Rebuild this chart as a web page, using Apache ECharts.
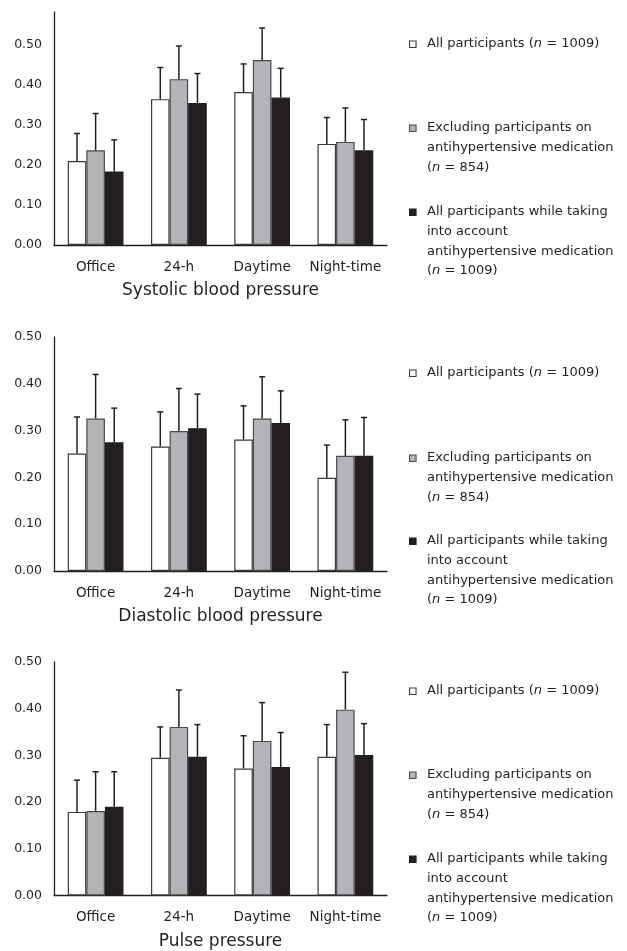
<!DOCTYPE html>
<html>
<head>
<meta charset="utf-8">
<style>html,body{margin:0;padding:0;background:#fff}#c{width:627px;height:951px}</style>
<script src="https://cdn.jsdelivr.net/npm/echarts@6/dist/echarts.min.js"></script>
</head>
<body>
<div id="c"></div>
<script>
// ---- data ----
const categories = ['Office', '24-h', 'Daytime', 'Night-time'];
const yTicks = [0, 0.1, 0.2, 0.3, 0.4, 0.5];
const panelTitles = ['Systolic blood pressure', 'Diastolic blood pressure', 'Pulse pressure'];
const seriesNames = ['All participants', 'Excluding participants on antihypertensive medication', 'All participants while taking into account antihypertensive medication'];
const legendLabels = [
  'All participants ({i|n} = 1009)',
  'Excluding participants on\nantihypertensive medication\n({i|n} = 854)',
  'All participants while taking\ninto account\nantihypertensive medication\n({i|n} = 1009)'
];

// Systolic
const sbpAll = [0.210, 0.365, 0.383, 0.253];
const sbpAllUpper = [0.279, 0.444, 0.453, 0.319];
const sbpExcl = [0.237, 0.415, 0.463, 0.258];
const sbpExclUpper = [0.329, 0.498, 0.543, 0.343];
const sbpAdj = [0.184, 0.355, 0.369, 0.237];
const sbpAdjUpper = [0.263, 0.429, 0.442, 0.314];

// Diastolic
const dbpAll = [0.251, 0.266, 0.281, 0.199];
const dbpAllUpper = [0.329, 0.340, 0.353, 0.269];
const dbpExcl = [0.326, 0.299, 0.326, 0.246];
const dbpExclUpper = [0.420, 0.390, 0.415, 0.323];
const dbpAdj = [0.275, 0.305, 0.316, 0.246];
const dbpAdjUpper = [0.348, 0.378, 0.385, 0.328];

// Pulse pressure
const ppAll = [0.179, 0.295, 0.272, 0.297];
const ppAllUpper = [0.247, 0.361, 0.342, 0.366];
const ppExcl = [0.181, 0.361, 0.331, 0.398];
const ppExclUpper = [0.265, 0.440, 0.413, 0.478];
const ppAdj = [0.190, 0.297, 0.275, 0.301];
const ppAdjUpper = [0.265, 0.366, 0.349, 0.368];

const panelMax = [0.583, 0.5, 0.5];

// ---- layout / style ----
const FONT = 'DejaVu Sans';
const INK = '#231f20';
const fills = ['#ffffff', '#b3b4b8', '#231f20'];
const borders = ['#3c3a3b', '#4a494b', '#231f20'];
const gridTops = [12, 337, 662];
const gridH = [233, 234, 234];
const legendFirstLineY = [[44, 128, 212], [373, 458, 541], [691, 775, 859]];
const CAT_GAP = 0.33;

const panels = [
  [[sbpAll, sbpAllUpper], [sbpExcl, sbpExclUpper], [sbpAdj, sbpAdjUpper]],
  [[dbpAll, dbpAllUpper], [dbpExcl, dbpExclUpper], [dbpAdj, dbpAdjUpper]],
  [[ppAll, ppAllUpper], [ppExcl, ppExclUpper], [ppAdj, ppAdjUpper]]
];

const grid = [], xAxis = [], yAxis = [], series = [], graphic = [];

panels.forEach((panel, p) => {
  grid.push({ left: 54, width: 333, top: gridTops[p], height: gridH[p] });
  xAxis.push({
    type: 'category', gridIndex: p, data: categories, boundaryGap: true,
    axisLine: { lineStyle: { color: INK, width: 1.3 } },
    axisTick: { show: false },
    axisLabel: { interval: 0, margin: 15, color: INK, fontFamily: FONT, fontSize: 13.5, hideOverlap: false },
    name: panelTitles[p], nameLocation: 'middle', nameGap: 37.5,
    nameTextStyle: { color: INK, fontFamily: FONT, fontSize: 17 },
    splitLine: { show: false }
  });
  yAxis.push({
    type: 'value', gridIndex: p, min: 0, max: panelMax[p], interval: 0.1,
    axisLine: { show: true, lineStyle: { color: INK, width: 1.3 } },
    axisTick: { show: false },
    splitLine: { show: false },
    axisLabel: {
      margin: 12, color: INK, fontFamily: FONT, fontSize: 12.5,
      formatter: v => yTicks.some(t => Math.abs(t - v) < 1e-6) ? v.toFixed(2) : ''
    }
  });
  panel.forEach(([vals, upper], k) => {
    series.push({
      type: 'bar', name: seriesNames[k], xAxisIndex: p, yAxisIndex: p,
      data: vals, barGap: '0%', barCategoryGap: (CAT_GAP * 100) + '%',
      itemStyle: { color: fills[k], borderColor: borders[k], borderWidth: 1.2 },
      emphasis: { disabled: true }, z: 2
    });
  });
  // error bars (upper only)
  panel.forEach(([vals, upper], k) => {
    series.push({
      type: 'custom', xAxisIndex: p, yAxisIndex: p, z: 5,
      data: vals.map((v, i) => [i, v, upper[i]]),
      renderItem: (params, api) => {
        const ci = api.value(0);
        const base = api.coord([ci, api.value(1)]);
        const top = api.coord([ci, api.value(2)]);
        const catW = api.size([1, 0])[0];
        const barW = catW * (1 - CAT_GAP) / 3;
        const x = base[0] + (k - 1) * barW;
        const st = { stroke: INK, lineWidth: 1.5 };
        return {
          type: 'group', children: [
            { type: 'line', shape: { x1: x, y1: base[1], x2: x, y2: top[1] }, style: st },
            { type: 'line', shape: { x1: x - 3, y1: top[1], x2: x + 3, y2: top[1] }, style: st }
          ]
        };
      }
    });
  });
  // legend
  legendLabels.forEach((lab, k) => {
    const y0 = legendFirstLineY[p][k];
    graphic.push({
      type: 'rect', left: 409, top: y0 - 3.5,
      shape: { width: 6.5, height: 6.5 },
      style: { fill: fills[k], stroke: borders[k], lineWidth: 1.1 }
    });
    graphic.push({
      type: 'text', x: 427, y: y0 - 9.8,
      style: {
        text: lab, fill: INK, fontFamily: FONT, fontSize: 13, lineHeight: 19.6,
        verticalAlign: 'top', align: 'left',
        rich: { i: { fontStyle: 'italic', fontFamily: FONT, fontSize: 13, fill: INK, lineHeight: 19.6 } }
      }
    });
  });
});

const chart = echarts.init(document.getElementById('c'), null, { renderer: 'canvas' });
chart.setOption({
  animation: false,
  backgroundColor: '#ffffff',
  grid, xAxis, yAxis, series, graphic
});
</script>
</body>
</html>
